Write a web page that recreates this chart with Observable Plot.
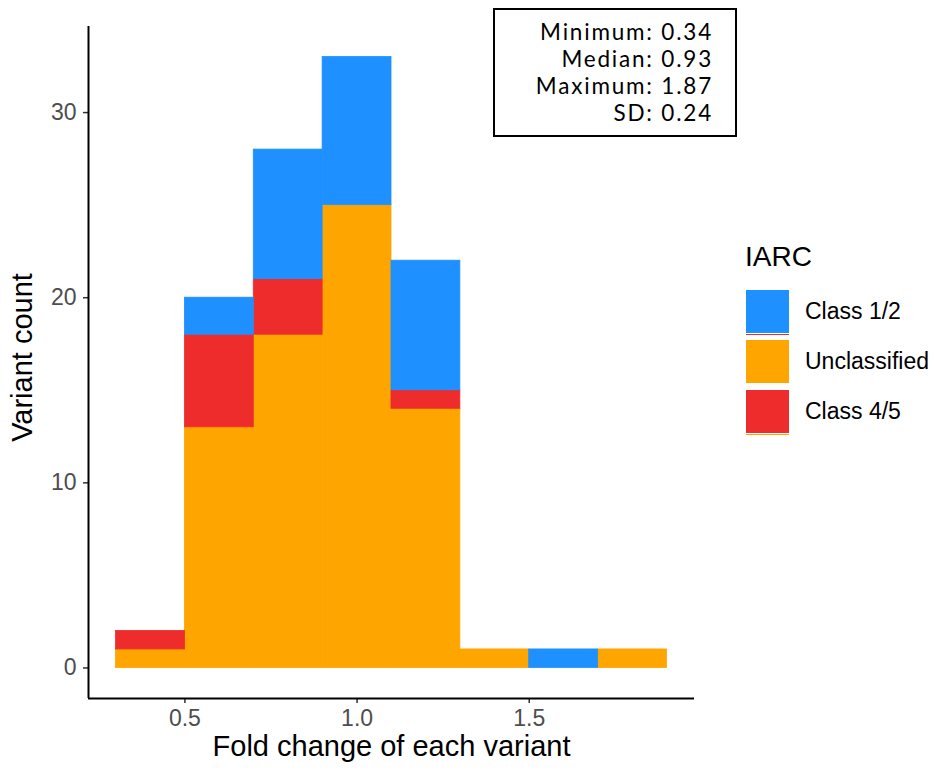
<!DOCTYPE html>
<html>
<head>
<meta charset="utf-8">
<script src="https://cdn.jsdelivr.net/npm/d3@7"></script>
<script src="https://cdn.jsdelivr.net/npm/@observablehq/plot@0.6"></script>
<style>
  html, body { margin: 0; padding: 0; background: #fff; }
  #wrap { position: relative; width: 937px; height: 771px; font-family: "Liberation Sans", Arial, sans-serif; }
  #stats {
    position: absolute; left: 493px; top: 8px; width: 244px; height: 129px;
    border: 2px solid #000; box-sizing: border-box; background: #fff;
    font-family: Lato, "Open Sans", sans-serif; font-size: 22.5px; line-height: 27px;
    letter-spacing: 1.8px;
    text-align: right; padding: 8px 22px 0 0; color: #000;
  }
  #legend { position: absolute; left: 745px; top: 240px; color: #000; }
  #legend .title { position: absolute; left: 0; top: 0; font-size: 28px; line-height: 34px; }
  #legend .row { position: absolute; left: 0; width: 200px; height: 50px; }
  #legend .key { position: absolute; left: 1px; top: 0; width: 43px; height: 43px; }
  #legend .lab { position: absolute; left: 60px; top: 8px; font-size: 23px; line-height: 27px; white-space: nowrap; }
  #legend .under { position: absolute; left: 1px; top: 44px; width: 43px; height: 1.2px; }
</style>
</head>
<body>
<div id="wrap">
  <div id="chart"></div>
  <div id="stats"></div>
  <div id="legend"></div>
</div>
<script>
// Histogram bins (left edge, width 0.2) of fold change
const binStarts = [0.3, 0.5, 0.7, 0.9, 1.1, 1.3, 1.5, 1.7];
const binWidth = 0.2;

// Counts per bin for each IARC group
const unclassified = [1, 13, 18, 25, 14, 1, 0, 1];
const class45      = [1, 5, 3, 0, 1, 0, 0, 0];
const class12      = [0, 2, 7, 8, 7, 0, 1, 0];

const groups = ["Class 1/2", "Unclassified", "Class 4/5"];
const groupColors = ["#1E90FF", "#FFA500", "#EE2C2C"];
const keyUnderlines = ["#EE2C2C", null, "#FFA500"];
const stackOrder = ["Unclassified", "Class 4/5", "Class 1/2"];

const xTicks = [0.5, 1.0, 1.5];
const yTicks = [0, 10, 20, 30];

const statLines = ["Minimum: 0.34", "Median: 0.93", "Maximum: 1.87", "SD: 0.24"];

// Long-format table for the stacked histogram
const series = {"Unclassified": unclassified, "Class 4/5": class45, "Class 1/2": class12};
const rows = [];
for (const g of stackOrder) {
  series[g].forEach((n, i) => rows.push({x1: binStarts[i], x2: binStarts[i] + binWidth, count: n, group: g}));
}

// ggplot-style 5% expansion of the data range
const xMin = binStarts[0], xMax = binStarts[binStarts.length - 1] + binWidth;
const xPad = (xMax - xMin) * 0.05;
const yMax = d3.max(binStarts.map((_, i) => unclassified[i] + class45[i] + class12[i]));
const yPad = yMax * 0.05;
const xDomain = [xMin - xPad, xMax + xPad];
const yDomain = [-yPad, yMax + yPad];

const chart = Plot.plot({
  width: 937,
  height: 771,
  marginLeft: 88,
  marginRight: 243,
  marginTop: 26,
  marginBottom: 73,
  style: {fontFamily: "'Liberation Sans', Arial, sans-serif", fontSize: "23px", background: "#fff"},
  x: {domain: xDomain},
  y: {domain: yDomain},
  color: {domain: groups, range: groupColors},
  marks: [
    Plot.rectY(rows, {
      x1: "x1", x2: "x2", y: "count", fill: "group", stroke: "group", strokeWidth: 0.8,
      order: stackOrder
    }),
    Plot.axisX({ticks: xTicks, tickFormat: ".1f", tickSize: 5, tickPadding: 6, fill: "#4d4d4d", stroke: "#333", strokeWidth: 1.5, label: null}),
    Plot.axisY({ticks: yTicks, tickSize: 5, tickPadding: 7, fill: "#4d4d4d", stroke: "#333", strokeWidth: 1.5, label: null}),
    Plot.ruleX([xDomain[0]], {stroke: "#000", strokeWidth: 2}),
    Plot.ruleY([yDomain[0]], {stroke: "#000", strokeWidth: 2}),
    Plot.text(["Fold change of each variant"], {frameAnchor: "bottom", dy: 57, fontSize: 29, fill: "#000"}),
    Plot.text(["Variant count"], {frameAnchor: "left", textAnchor: "middle", rotate: -90, dx: -66, dy: -5, fontSize: 29, fill: "#000"})
  ]
});
document.getElementById("chart").append(chart);

// Summary statistics box
document.getElementById("stats").innerHTML = statLines.map(s => `<div>${s}</div>`).join("");

// Legend
const legend = document.getElementById("legend");
let html = `<div class="title">IARC</div>`;
groups.forEach((g, i) => {
  const top = 50 + i * 50;
  const under = keyUnderlines[i] ? `<div class="under" style="background:${keyUnderlines[i]}"></div>` : "";
  html += `<div class="row" style="top:${top}px"><div class="key" style="background:${groupColors[i]}"></div>${under}<div class="lab">${g}</div></div>`;
});
legend.innerHTML = html;
</script>
</body>
</html>
